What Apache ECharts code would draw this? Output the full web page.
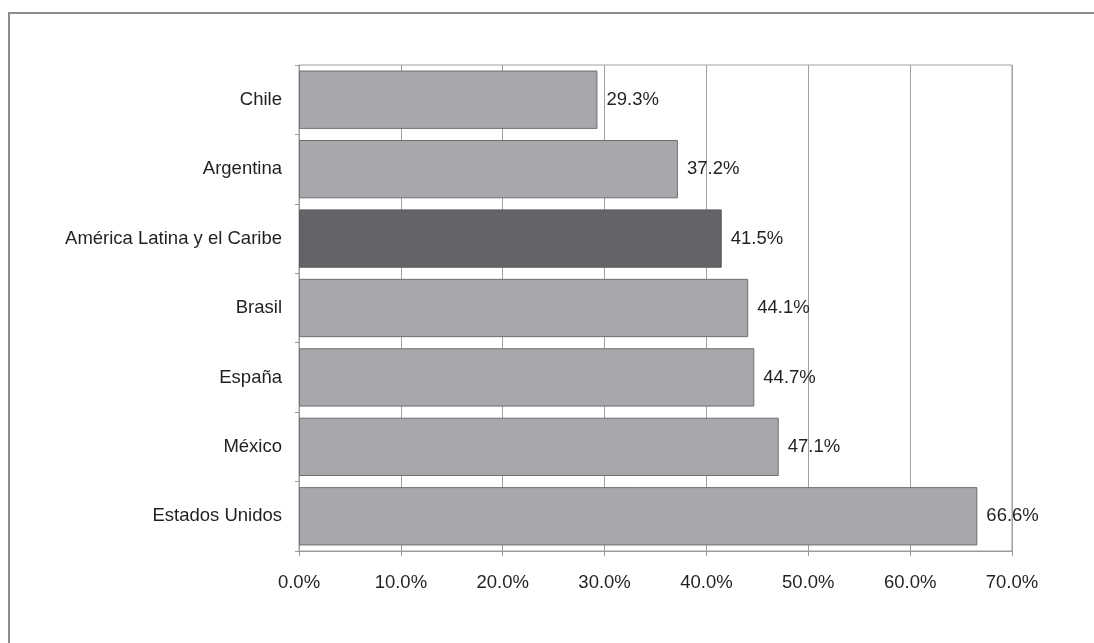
<!DOCTYPE html>
<html>
<head>
<meta charset="utf-8">
<script src="https://cdn.jsdelivr.net/npm/echarts@6/dist/echarts.min.js"></script>
<style>
html,body{margin:0;padding:0;background:#fff;}
#main{width:1094px;height:643px;}
</style>
</head>
<body>
<div id="main"></div>
<script>
const categories = ["Chile", "Argentina", "América Latina y el Caribe", "Brasil", "España", "México", "Estados Unidos"];
const values = [29.3, 37.2, 41.5, 44.1, 44.7, 47.1, 66.6];
const highlighted = "América Latina y el Caribe";
const xTicks = [0, 10, 20, 30, 40, 50, 60, 70];

const chart = echarts.init(document.getElementById('main'));
const font = 'Liberation Sans, Arial, Helvetica, sans-serif';
const fs = 18.5;
chart.setOption({
  backgroundColor: '#fff',
  animation: false,
  graphic: [{
    type: 'rect',
    shape: { x: 9, y: 13, width: 1200, height: 800 },
    style: { fill: 'none', stroke: '#8c8c8c', lineWidth: 2 },
    silent: true
  }],
  grid: {
    left: 299, right: 82, top: 65, bottom: 92,
    show: true, borderColor: '#a0a0a0', borderWidth: 1
  },
  xAxis: {
    type: 'value',
    min: xTicks[0], max: xTicks[xTicks.length - 1], interval: 10,
    axisLine: { show: true, lineStyle: { color: '#999', width: 1 } },
    axisTick: { show: true, length: 5, lineStyle: { color: '#999' } },
    splitLine: { show: true, lineStyle: { color: '#a0a0a0', width: 1 } },
    axisLabel: {
      margin: 22, color: '#231f20', fontFamily: font, fontSize: fs,
      formatter: v => v.toFixed(1) + '%'
    }
  },
  yAxis: {
    type: 'category',
    data: categories,
    inverse: true,
    axisLine: { show: true, lineStyle: { color: '#999', width: 1 } },
    axisTick: { show: true, length: 4, alignWithLabel: false, lineStyle: { color: '#999' } },
    axisLabel: { margin: 17, color: '#231f20', fontFamily: font, fontSize: fs }
  },
  series: [{
    type: 'bar',
    data: values.map((v, i) => ({
      value: v,
      itemStyle: categories[i] === highlighted
        ? { color: '#636467', borderColor: '#58595b', borderWidth: 1 }
        : { color: '#a7a8ab', borderColor: '#6d6e71', borderWidth: 1 }
    })),
    barCategoryGap: '16%',
    label: {
      show: true, position: 'right', distance: 9,
      color: '#231f20', fontFamily: font, fontSize: fs,
      formatter: p => p.value.toFixed(1) + '%'
    }
  }]
});
</script>
</body>
</html>
